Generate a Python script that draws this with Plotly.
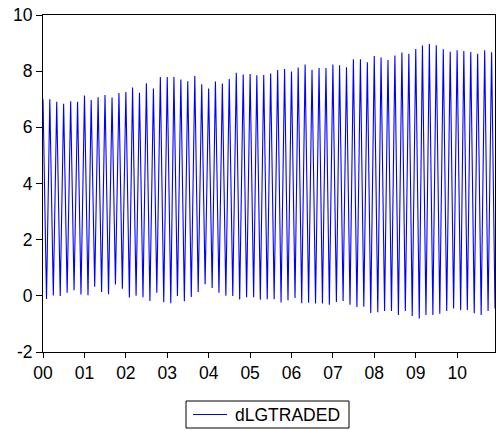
import pandas as pd
import plotly.graph_objects as go

# Monthly observations, Jan 2000 - Dec 2010
dates = pd.date_range("2000-01-01", "2010-12-01", freq="MS")

# Values in odd months (Jan, Mar, May, ...)
peaks = [
    7.00, 7.00, 6.91, 6.84, 6.93, 6.91, 7.13, 6.97, 7.07, 7.15, 7.06, 7.22,
    7.26, 7.42, 7.23, 7.57, 7.38, 7.79, 7.79, 7.79, 7.70, 7.64, 7.83, 7.53,
    7.38, 7.63, 7.56, 7.72, 7.94, 7.88, 7.90, 7.85, 7.86, 7.92, 8.04, 8.08,
    7.99, 8.13, 8.24, 8.05, 8.11, 8.11, 8.24, 8.21, 8.14, 8.42, 8.42, 8.32,
    8.54, 8.49, 8.40, 8.56, 8.66, 8.62, 8.79, 8.91, 8.97, 8.92, 8.78, 8.69,
    8.74, 8.72, 8.68, 8.62, 8.74, 8.67,
]

# Values in even months (Feb, Apr, Jun, ...)
troughs = [
    -0.11, 0.01, -0.01, 0.11, 0.20, 0.05, 0.02, 0.32, 0.14, 0.06, 0.40, 0.25,
    -0.06, 0.00, -0.05, -0.18, 0.11, -0.23, -0.26, -0.01, -0.19, -0.04, 0.14,
    0.41, 0.28, 0.11, 0.00, -0.01, -0.13, -0.05, -0.05, -0.14, -0.12, -0.12,
    -0.24, -0.16, -0.08, -0.26, -0.25, -0.27, -0.27, -0.32, -0.22, -0.18,
    -0.32, -0.40, -0.39, -0.61, -0.58, -0.54, -0.54, -0.68, -0.54, -0.72,
    -0.81, -0.68, -0.68, -0.64, -0.54, -0.45, -0.51, -0.50, -0.62, -0.68,
    -0.54, -0.45,
]

series = []
for hi, lo in zip(peaks, troughs):
    series.extend([hi, lo])

year_ticks = pd.date_range("2000-01-01", "2010-01-01", freq="YS")
year_labels = [d.strftime("%y") for d in year_ticks]
y_ticks = [-2, 0, 2, 4, 6, 8, 10]
y_labels = [str(v) for v in y_ticks]

SERIES_NAME = "dLGTRADED"
LINE_COLOR = "#0000FF"

W, H = 496, 430
M_L, M_R, M_T, M_B = 43, 1, 15, 78
PW, PH = W - M_L - M_R, H - M_T - M_B

font = dict(family="Liberation Sans, Arial, sans-serif", size=17.5, color="black")


def px_x(x):
    return (x - M_L) / PW


def px_y(y):
    return (H - M_B - y) / PH


fig = go.Figure()
fig.add_trace(go.Scatter(
    x=dates, y=series, mode="lines", name=SERIES_NAME,
    line=dict(color=LINE_COLOR, width=1.1), showlegend=False,
))

# Boxed legend below the plot area
fig.add_shape(type="rect", xref="paper", yref="paper",
              x0=px_x(186), x1=px_x(349), y0=px_y(428), y1=px_y(401),
              line=dict(color="black", width=1), fillcolor="white", layer="above")
fig.add_shape(type="line", xref="paper", yref="paper",
              x0=px_x(193), x1=px_x(227), y0=px_y(414.5), y1=px_y(414.5),
              line=dict(color=LINE_COLOR, width=1.1), layer="above")
fig.add_annotation(xref="paper", yref="paper", x=px_x(233), y=px_y(415),
                   xanchor="left", yanchor="middle", showarrow=False,
                   text=SERIES_NAME, font=font)

fig.update_layout(
    width=W, height=H,
    margin=dict(l=M_L, r=M_R, t=M_T, b=M_B),
    paper_bgcolor="white", plot_bgcolor="white",
    font=font, showlegend=False,
)
fig.update_xaxes(
    range=[dates[0], dates[-1]],
    tickvals=list(year_ticks), ticktext=year_labels,
    ticks="outside", ticklen=5, tickcolor="black",
    showline=True, linecolor="black", linewidth=1, mirror=True,
    showgrid=False, zeroline=False,
)
fig.update_yaxes(
    range=[-2, 10], tickvals=y_ticks, ticktext=y_labels,
    ticks="outside", ticklen=6, tickcolor="black",
    showline=True, linecolor="black", linewidth=1, mirror=True,
    showgrid=False, zeroline=False,
)

fig.write_html("out.html")
